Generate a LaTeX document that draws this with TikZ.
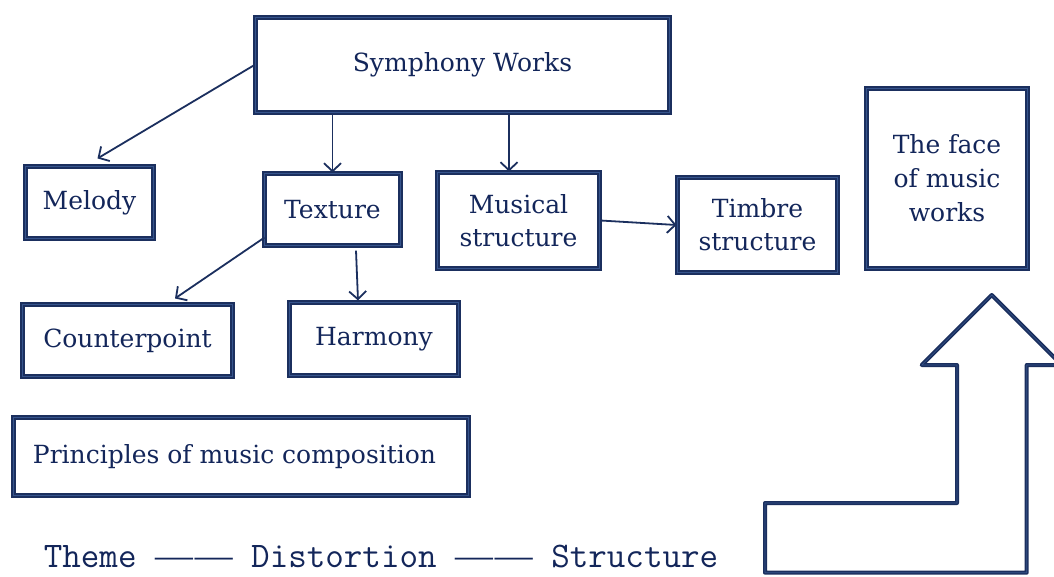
\documentclass[tikz,border=0pt]{standalone}
\usepackage{fontspec}
\setmainfont{DejaVu Serif}
\newfontfamily\dashfont[FakeStretch=1.05]{Liberation Serif}
\usetikzlibrary{arrows.meta,calc}
\definecolor{boxline}{HTML}{1B2F5E}
\definecolor{boxmid}{HTML}{36548C}
\definecolor{navytext}{HTML}{13265A}

\begin{document}
\begin{tikzpicture}[x=1pt,y=-1pt,
    box/.style={draw=boxline,double=boxmid,double distance=0.6pt,line width=2.1pt,
        fill=white,text=navytext,inner sep=0pt,align=center,
        font=\fontsize{25}{33}\selectfont},
    link/.style={draw=boxline,line width=1.8pt,-{Straight Barb[length=8pt,width=17pt]}},
    bigarrow/.style={draw=boxline,double=boxmid,double distance=0.6pt,line width=1.7pt,line join=round}]
    \clip (0,0) rectangle (1054,576);
    \fill[white] (0,0) rectangle (1054,576);

    \node[box,minimum width=414pt,minimum height=95pt] (sym) at (462.5,65) {Symphony Works};
    \node[box,minimum width=128pt,minimum height=72pt] (mel) at (89.5,202.5) {Melody};
    \node[box,minimum width=136pt,minimum height=72pt] (tex) at (332.5,209.5) {Texture};
    \node[box,minimum width=162pt,minimum height=96pt] (mus) at (518.5,220.5) {Musical\\structure};
    \node[box,minimum width=160pt,minimum height=95pt] (tim) at (757.5,225) {Timbre\\structure};
    \node[box,minimum width=161pt,minimum height=180pt,
        font=\fontsize{25}{34}\selectfont] (face) at (947,178.5) {The face\\of music\\works};
    \node[box,minimum width=210pt,minimum height=72pt] (cp) at (127.5,340.5) {Counterpoint};
    \node[box,minimum width=169pt,minimum height=73pt] (har) at (374,339) {Harmony};
    \node[box,minimum width=455pt,minimum height=78pt] (pri) at (241,456.5)
        {Principles of music composition\hspace{13pt}};

    \node[text=navytext,inner sep=0pt,font=\ttfamily\fontsize{36}{40}\selectfont] (motto) at (381,556)
        {Theme {\dashfont —\kern2pt—} Distortion {\dashfont —\kern2pt—} Structure};

    \draw[link] (sym.west) -- ($(mel.north)+(8,-7)$);
    \draw[link] (sym.south -| tex.north) -- (tex.north);
    \draw[link] ($(sym.south)+(46.5,0)$) -- ($(mus.north)+(-9.5,0)$);
    \draw[link] ($(tex.south west)+(1,-9)$) -- ($(cp.north)+(47.5,-5)$);
    \draw[link] ($(tex.south)+(23.5,4)$) -- ($(har.north)+(-16,-1)$);
    \draw[link] (mus.east) -- (tim.west);

    \draw[bigarrow] (765,503) -- (957,503) -- (957,365) -- (921.7,365) -- (991.7,295)
        -- (1061.7,365) -- (1026.7,365) -- (1026.7,572.7) -- (765,572.7) -- cycle;
\end{tikzpicture}
\end{document}
